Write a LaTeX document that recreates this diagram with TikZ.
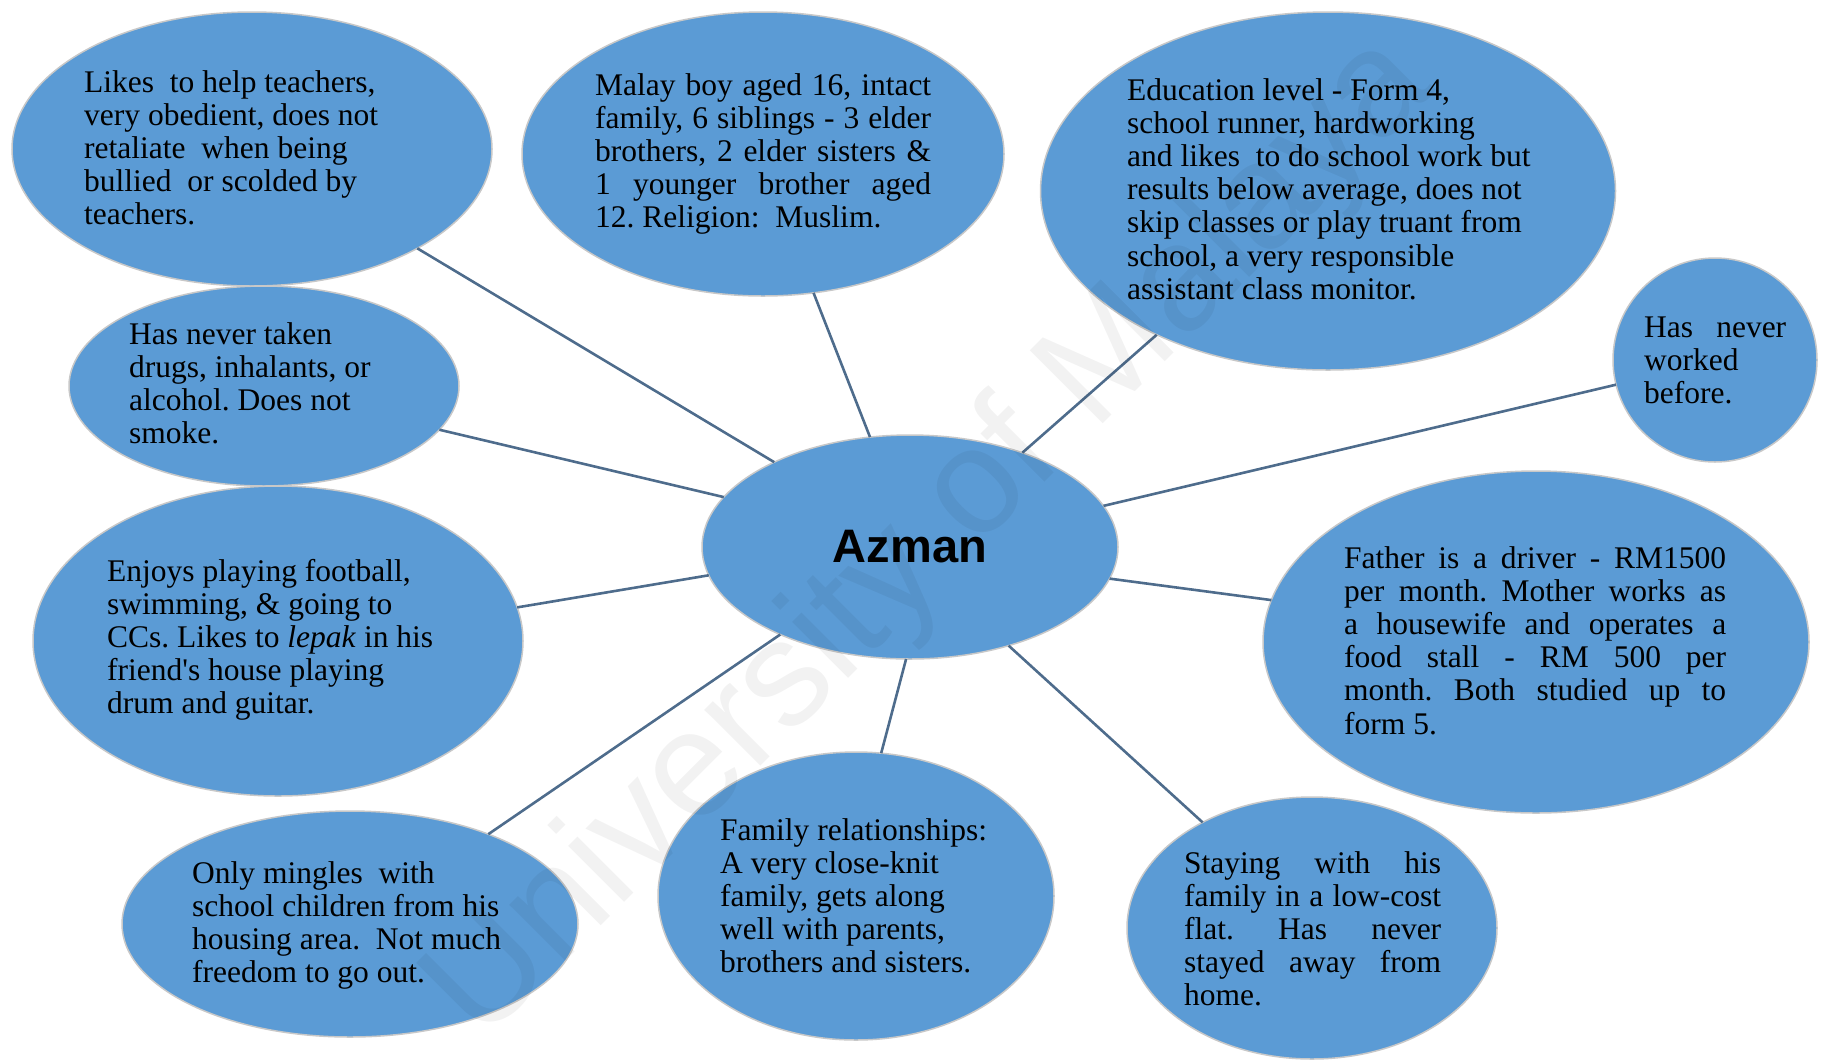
\documentclass[tikz,border=0pt]{standalone}
\usepackage{fontspec}
\setmainfont{Liberation Serif}[Ligatures=TeXOff]
\newfontfamily\headfont{Liberation Sans}
\usetikzlibrary{shapes.geometric}

\definecolor{bubblefill}{HTML}{5B9BD5}
\definecolor{bubblerim}{HTML}{C8C8C8}
\definecolor{spokecol}{HTML}{4E6C8C}

% use the font's own interword glue inside the text blocks
\newcommand\fontspaces{\spaceskip=0pt\xspaceskip=0pt\relax}
% a line stretched to a given width, as in a justified paragraph
\newcommand\jline[2]{{\fontspaces\makebox[#1][s]{#2}}}

\tikzset{
  bubble/.style args={#1/#2}{ellipse, fill=bubblefill, draw=bubblerim,
    line width=1.5pt, minimum width=#1, minimum height=#2,
    inner sep=0pt, outer sep=0pt},
  note/.style={anchor=base west, inner sep=0pt, text width=#1,
    font=\fontsize{31.5}{33.2}\selectfont\frenchspacing},
  spoke/.style={draw=spokecol, line width=2.6pt},
  wmtext/.style={rotate=45, text=black, text opacity=0.05,
    font=\headfont\fontsize{150}{155}\selectfont}
}

\begin{document}
\begin{tikzpicture}[x=1pt, y=-1pt]
\useasboundingbox (0,0) rectangle (1822,1061);

% outer bubbles
\node[bubble={480pt/274pt}] (likes)   at (252,149)  {};
\node[bubble={482pt/284pt}] (malay)   at (763,154)  {};
\node[bubble={575pt/358pt}] (edu)     at (1328,191) {};
\node[bubble={204pt/204pt}] (work)    at (1715,360) {};
\node[bubble={390pt/200pt}] (drugs)   at (264,386)  {};
\node[bubble={490pt/310pt}] (sport)   at (278,641)  {};
\node[bubble={546pt/342pt}] (parents) at (1536,642) {};
\node[bubble={456pt/226pt}] (friends) at (350,924)  {};
\node[bubble={396pt/288pt}] (family)  at (856,896)  {};
\node[bubble={370pt/262pt}] (home)    at (1312,928) {};

% central bubble
\node[bubble={416pt/224pt}, font=\headfont\bfseries\fontsize{47}{50}\selectfont]
  (azman) at (910,547) {Azman};

% spokes from the centre
\draw[spoke] (azman.148.2) -- (likes.329);
\draw[spoke] (azman.110.3) -- (malay.290.8);
\draw[spoke] (azman.40.3)  -- (edu.220.7);
\draw[spoke] (azman.12.9)  -- (work.194.6);
\draw[spoke] (azman.165.9) -- (drugs.346.1);
\draw[spoke] (azman.188.3) -- (sport.8.7);
\draw[spoke] (azman.351.6) -- (parents.171.4);
\draw[spoke] (azman.214.9) -- (friends.33.4);
\draw[spoke] (azman.268)   -- (family.80.2);
\draw[spoke] (azman.315.6) -- (home.136.8);

% texts
\node[note=420pt] (tlikes) at (84,92) {\fontspaces Likes\ \ to help teachers,\\
very obedient, does not\\
retaliate\ \ when being\\
bullied\ \ or scolded by\\
teachers.};

\node[note=340pt] (tmalay) at (595,95) {\fontspaces\jline{336pt}{Malay boy aged 16, intact}\\
\jline{336pt}{family, 6 siblings - 3 elder}\\
\jline{336pt}{brothers, 2 elder sisters \&}\\
\jline{336pt}{1 younger brother aged}\\
12. Religion:\ \ Muslim.};

\node[note=440pt] (tedu) at (1127,100) {\fontspaces Education level - Form 4,\\
school runner, hardworking\\
and likes\ \ to do school work but\\
results below average, does not\\
skip classes or play truant from\\
school, a very responsible\\
assistant class monitor.};

\node[note=150pt] (twork) at (1644,337) {\fontspaces\jline{142pt}{Has never}\\
worked\\
before.};

\node[note=300pt] (tdrugs) at (129,344) {\fontspaces Has never taken\\
drugs, inhalants, or\\
alcohol. Does not\\
smoke.};

\node[note=360pt] (tsport) at (107,581) {\fontspaces Enjoys playing football,\\
swimming, \& going to\\
CCs. Likes to \textit{lepak} in his\\
friend's house playing\\
drum and guitar.};

\node[note=390pt] (tparents) at (1344,568) {\fontspaces\jline{382pt}{Father is a driver - RM1500}\\
\jline{382pt}{per month. Mother works as}\\
\jline{382pt}{a housewife and operates a}\\
\jline{382pt}{food stall - RM 500 per}\\
\jline{382pt}{month. Both studied up to}\\
form 5.};

\node[note=340pt] (tfriends) at (192,883) {\fontspaces Only mingles\ \ with\\
school children from his\\
housing area.\ \ Not much\\
freedom to go out.};

\node[note=320pt] (tfamily) at (720,840) {\fontspaces Family relationships:\\
A very close-knit\\
family, gets along\\
well with parents,\\
brothers and sisters.};

\node[note=265pt] (thome) at (1184,873) {\fontspaces\jline{257pt}{Staying with his}\\
\jline{257pt}{family in a low-cost}\\
\jline{257pt}{flat. Has never}\\
\jline{257pt}{stayed away from}\\
home.};

% faint diagonal watermark
\node[wmtext] (wm) at (932,540) {University of Malaya};
\end{tikzpicture}
\end{document}
